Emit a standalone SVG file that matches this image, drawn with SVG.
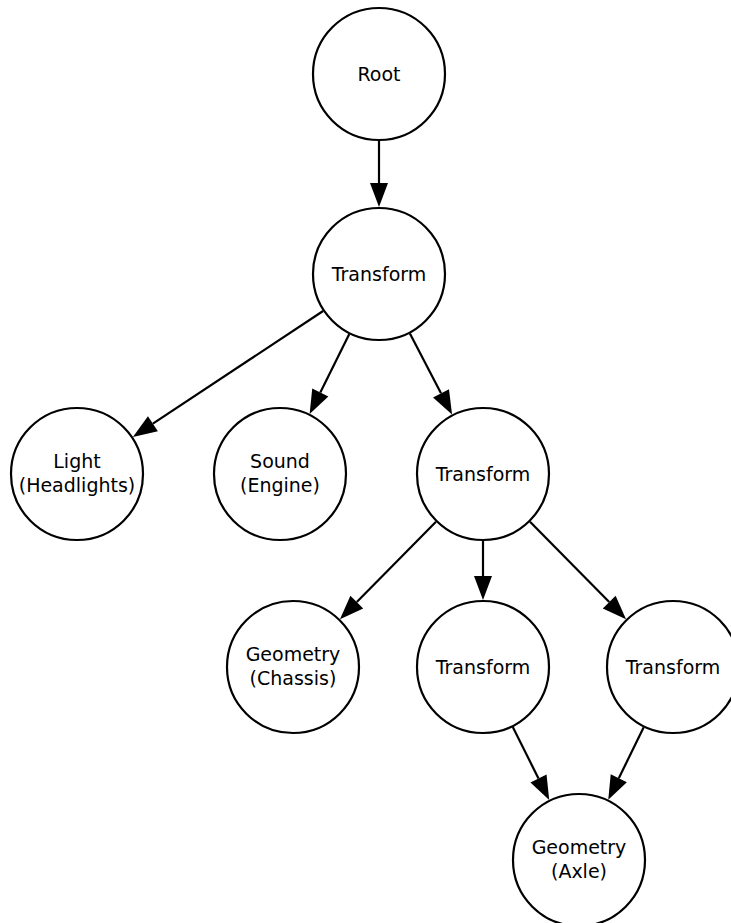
<svg xmlns="http://www.w3.org/2000/svg" width="731" height="923" viewBox="0 0 731 923">
  <style>
    .node circle { fill: #ffffff; stroke: #000000; stroke-width: 2.2; }
    .node text { font-family: "DejaVu Sans", sans-serif; font-size: 19px; fill: #000000; text-anchor: middle; }
    .edges line { stroke: #000000; stroke-width: 2.2; marker-end: url(#arrow); }
  </style>
  <defs>
    <marker id="arrow" markerUnits="userSpaceOnUse" markerWidth="26" markerHeight="20" refX="0" refY="9" orient="auto" overflow="visible">
      <path d="M0,0 L24,9 L0,18 Z" fill="#000000"/>
    </marker>
  </defs>
  <rect width="731" height="923" fill="#ffffff"/>

  <g class="edges">
    <line x1="379" y1="141" x2="379" y2="183"/>
    <line x1="323.1" y1="311.0" x2="152.9" y2="423.7"/>
    <line x1="349.3" y1="334.0" x2="320.3" y2="392.5"/>
    <line x1="409.9" y1="333.4" x2="441.0" y2="393.3"/>
    <line x1="436.0" y1="521.8" x2="356.8" y2="602.1"/>
    <line x1="483" y1="541" x2="483" y2="576"/>
    <line x1="530.0" y1="521.8" x2="609.2" y2="602.1"/>
    <line x1="512.8" y1="727.0" x2="538.5" y2="778.5"/>
    <line x1="643.7" y1="727.2" x2="618.8" y2="778.2"/>
  </g>

  <g id="root" class="node">
    <circle cx="379" cy="74" r="66"/>
    <text x="379" y="81">Root</text>
  </g>
  <g id="transform-car" class="node">
    <circle cx="379" cy="274" r="66"/>
    <text x="379" y="281">Transform</text>
  </g>
  <g id="light-headlights" class="node">
    <circle cx="77" cy="474" r="66"/>
    <text x="77" y="468">Light</text>
    <text x="77" y="492">(Headlights)</text>
  </g>
  <g id="sound-engine" class="node">
    <circle cx="280" cy="474" r="66"/>
    <text x="280" y="468">Sound</text>
    <text x="280" y="492">(Engine)</text>
  </g>
  <g id="transform-body" class="node">
    <circle cx="483" cy="474" r="66"/>
    <text x="483" y="481">Transform</text>
  </g>
  <g id="geometry-chassis" class="node">
    <circle cx="293" cy="667" r="66"/>
    <text x="293" y="661">Geometry</text>
    <text x="293" y="685">(Chassis)</text>
  </g>
  <g id="transform-front" class="node">
    <circle cx="483" cy="667" r="66"/>
    <text x="483" y="674">Transform</text>
  </g>
  <g id="transform-rear" class="node">
    <circle cx="673" cy="667" r="66"/>
    <text x="673" y="674">Transform</text>
  </g>
  <g id="geometry-axle" class="node">
    <circle cx="579" cy="860" r="66"/>
    <text x="579" y="854">Geometry</text>
    <text x="579" y="878">(Axle)</text>
  </g>
</svg>
